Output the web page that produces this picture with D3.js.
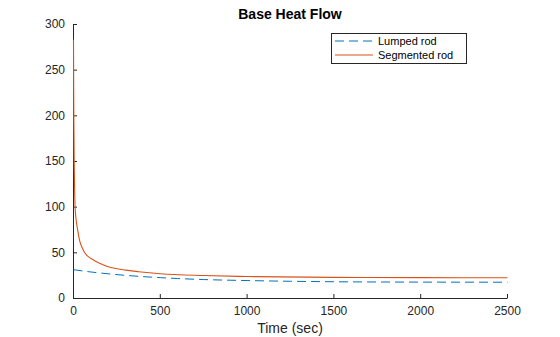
<!DOCTYPE html>
<html><head><meta charset="utf-8">
<script src="https://cdn.jsdelivr.net/npm/d3@7/dist/d3.min.js"></script>
<style>body{margin:0;background:#fff}svg{display:block;font-family:"Liberation Sans",Arial,sans-serif}</style>
</head><body><svg id="c" width="560" height="337"></svg>
<script>
const seriesNames = ["Lumped rod", "Segmented rod"];
const lumpedT = [0, 100, 200, 300, 400, 500, 600, 750, 1000, 1250, 1500, 2000, 2500];
const lumpedV = [31, 28.5, 26.5, 24.8, 23.4, 22.3, 21.3, 20.2, 19.1, 18.3, 17.8, 17.4, 17.3];
const segT = [0, 1, 2, 4, 6, 9, 15, 24, 35, 50, 63, 80, 115, 150, 200, 300, 375, 500, 750, 1000, 1500, 2000, 2500];
const segV = [283, 230, 195, 150, 125, 100, 86, 74.5, 63, 55, 50, 46, 41.6, 38, 34.3, 30.5, 28.8, 26.6, 24.6, 23.5, 22.6, 22.3, 22.2];
const xTicks = [0, 500, 1000, 1500, 2000, 2500];
const yTicks = [0, 50, 100, 150, 200, 250, 300];

const svg = d3.select("#c");
const x = d3.scaleLinear().domain([0, 2500]).range([73, 507]);
const y = d3.scaleLinear().domain([0, 300]).range([298, 24]);
const ax = "#262626";

svg.append("defs").append("clipPath").attr("id","pc").append("rect")
  .attr("x",70).attr("y",22).attr("width",440).attr("height",278);

const xa = svg.append("g").attr("transform","translate(0,298)")
  .call(d3.axisBottom(x).tickValues(xTicks).tickSize(-4).tickSizeOuter(0).tickPadding(8).tickFormat(d3.format("d")));
const ya = svg.append("g").attr("transform","translate(73,0)")
  .call(d3.axisLeft(y).tickValues(yTicks).tickSize(-4).tickSizeOuter(0).tickPadding(8).tickFormat(d3.format("d")));
[xa, ya].forEach(a=>{
  a.selectAll("path").attr("stroke",ax);
  a.selectAll("line").attr("stroke",ax);
  a.selectAll("text").attr("fill",ax).style("font-size","12px").style("font-family","Liberation Sans, Arial, sans-serif");
});

const line = d3.line().x(d=>x(d[0])+0.5).y(d=>y(d[1])).curve(d3.curveMonotoneX);
const g = svg.append("g").attr("clip-path","url(#pc)");
g.append("path").datum(lumpedT.map((t,i)=>[t,lumpedV[i]])).attr("d",line)
  .attr("fill","none").attr("stroke","#0072BD").attr("stroke-width",1).attr("stroke-dasharray","9,5");
g.append("path").datum(segT.map((t,i)=>[t,segV[i]])).attr("d",line)
  .attr("fill","none").attr("stroke","#D95319").attr("stroke-width",1.1);

svg.append("text").attr("x",290).attr("y",19).attr("text-anchor","middle")
  .style("font-size","14px").style("font-weight","bold").attr("fill","#000").text("Base Heat Flow");
svg.append("text").attr("x",290).attr("y",333).attr("text-anchor","middle")
  .style("font-size","14px").attr("fill",ax).text("Time (sec)");

// legend
const lg = svg.append("g");
lg.append("rect").attr("x",331.5).attr("y",33.5).attr("width",135).attr("height",30)
  .attr("fill","#fff").attr("stroke","#262626").attr("stroke-width",1);
const items = [{c:"#0072BD",d:"9,5"},{c:"#D95319",d:null}];
items.forEach((it,i)=>{
  const yy = 41 + i*14;
  const l = lg.append("line").attr("x1",335).attr("x2",373).attr("y1",yy).attr("y2",yy)
    .attr("stroke",it.c).attr("stroke-width",1);
  if(it.d) l.attr("stroke-dasharray",it.d);
  lg.append("text").attr("x",378).attr("y",yy+4).style("font-size","11px").attr("fill","#000").text(seriesNames[i]);
});
</script></body></html>
